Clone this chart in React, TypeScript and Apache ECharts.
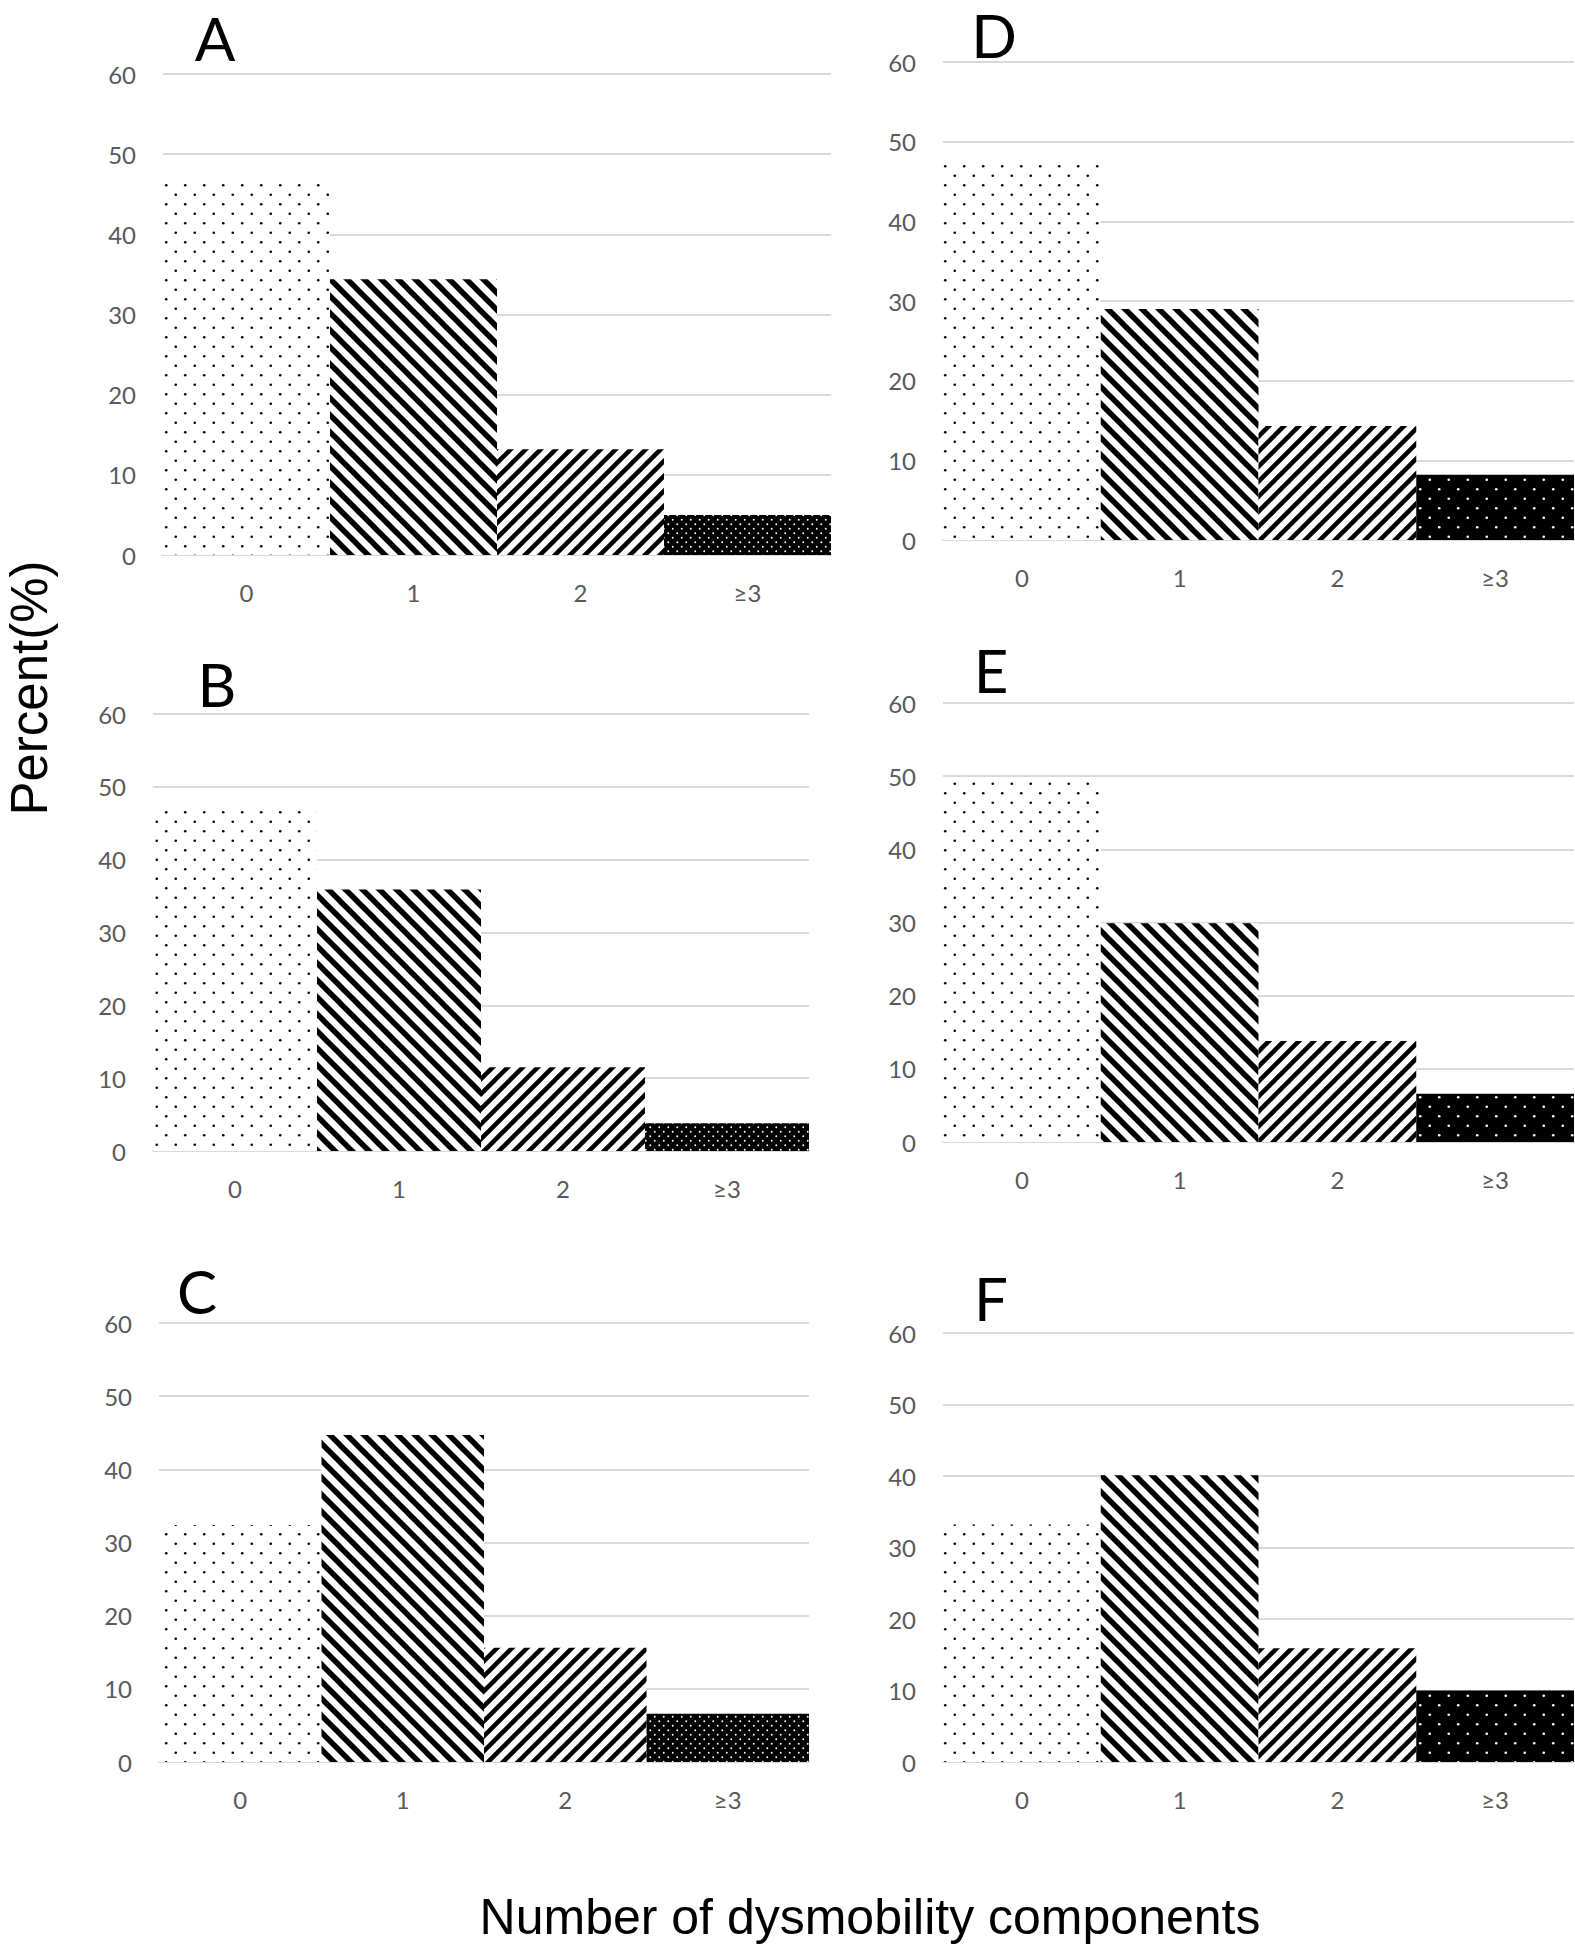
import React, { useEffect, useRef } from 'react';
import * as echarts from 'echarts';

const categories = ['0', '1', '2', '≥3'];
const panelLetters = ['A', 'B', 'C', 'D', 'E', 'F'];
const valuesA = [47.0, 34.4, 13.2, 5.0];
const valuesB = [47.6, 35.9, 11.5, 3.8];
const valuesC = [32.4, 44.7, 15.6, 6.6];
const valuesD = [47.7, 29.0, 14.3, 8.2];
const valuesE = [49.8, 29.9, 13.8, 6.6];
const valuesF = [33.2, 40.1, 15.9, 10.0];
const panelValues = [valuesA, valuesB, valuesC, valuesD, valuesE, valuesF];
const yMin = 0;
const yMax = 60;
const yStep = 10;
const xTitle = 'Number of dysmobility components';
const yTitle = 'Percent(%)';

// layout (pixels)
const gridRects = [
  { left: 163, top: 74, width: 668, height: 481 },
  { left: 153, top: 714, width: 656, height: 437 },
  { left: 159, top: 1323, width: 650, height: 439 },
  { left: 943, top: 62, width: 631, height: 478 },
  { left: 943, top: 703, width: 631, height: 439 },
  { left: 943, top: 1333, width: 631, height: 429 },
];
const letterPos = [
  [215, 38], [217, 684], [197, 1291], [994, 35], [991, 670], [991, 1298],
];

function tile(size: number, draw: (ctx: CanvasRenderingContext2D, s: number) => void) {
  const c = document.createElement('canvas');
  c.width = size;
  c.height = size;
  const ctx = c.getContext('2d') as CanvasRenderingContext2D;
  draw(ctx, size);
  return { image: c.toDataURL(), imageWidth: size, imageHeight: size, repeat: 'repeat' };
}

function dots(size: number, bg: string, fg: string, r: number) {
  return tile(size, (ctx, s) => {
    ctx.fillStyle = bg;
    ctx.fillRect(0, 0, s, s);
    ctx.fillStyle = fg;
    const pts = [[s * 0.25, s * 0.25], [s * 0.75, s * 0.75]];
    pts.forEach(([x, y]) => {
      ctx.beginPath();
      ctx.arc(x, y, r, 0, Math.PI * 2);
      ctx.fill();
    });
  });
}

function stripes(size: number, lw: number, down: boolean) {
  return tile(size, (ctx, s) => {
    ctx.fillStyle = '#ffffff';
    ctx.fillRect(0, 0, s, s);
    ctx.strokeStyle = '#000000';
    ctx.lineWidth = lw;
    for (let k = -1; k <= 1; k++) {
      ctx.beginPath();
      if (down) {
        ctx.moveTo(k * s - 3, -3);
        ctx.lineTo(k * s + s + 3, s + 3);
      } else {
        ctx.moveTo(k * s - 3, s + 3);
        ctx.lineTo(k * s + s + 3, -3);
      }
      ctx.stroke();
    }
  });
}

export default function App() {
  const ref = useRef<HTMLDivElement>(null);
  useEffect(() => {
    if (!ref.current) return;
    const chart = echarts.init(ref.current, null, { renderer: 'svg' });

    const pSparse = dots(19, '#ffffff', '#000000', 1.3);
    const pDown = stripes(17, 5.5, true);
    const pUp = stripes(15, 4.5, false);
    const pDenseL = dots(9, '#000000', '#ffffff', 0.95);
    const pDenseR = dots(19, '#000000', '#ffffff', 1.3);

    const grids: any[] = [];
    const xAxes: any[] = [];
    const yAxes: any[] = [];
    const series: any[] = [];
    const graphics: any[] = [];

    panelValues.forEach((vals, i) => {
      grids.push({ ...gridRects[i], containLabel: false, outerBoundsMode: 'none' });
      xAxes.push({
        type: 'category',
        gridIndex: i,
        data: categories,
        axisLine: { show: true, lineStyle: { color: '#d9d9d9', width: 2 } },
        axisTick: { show: false },
        axisLabel: { color: '#595959', fontSize: 24, fontFamily: 'Lato', margin: 25 },
        splitLine: { show: false },
      });
      yAxes.push({
        type: 'value',
        gridIndex: i,
        min: yMin,
        max: yMax,
        interval: yStep,
        axisLine: { show: false },
        axisTick: { show: false },
        axisLabel: { color: '#595959', fontSize: 24, fontFamily: 'Lato', margin: 27 },
        splitLine: { show: true, lineStyle: { color: '#d9d9d9', width: 2 } },
      });
      const pats = [pSparse, pDown, pUp, i < 3 ? pDenseL : pDenseR];
      series.push({
        type: 'bar',
        xAxisIndex: i,
        yAxisIndex: i,
        barCategoryGap: '0%',
        data: vals.map((v, j) => ({ value: v, itemStyle: { color: pats[j] } })),
      });
      graphics.push({
        type: 'text',
        x: letterPos[i][0],
        y: letterPos[i][1],
        style: {
          text: panelLetters[i],
          fontSize: 60,
          fontFamily: 'Lato',
          fill: '#000000',
          align: 'center',
          verticalAlign: 'middle',
        },
      });
    });

    graphics.push({
      type: 'text',
      x: 29,
      y: 688,
      rotation: Math.PI / 2,
      style: {
        text: yTitle,
        fontSize: 51,
        fontFamily: 'Liberation Sans',
        fill: '#000000',
        align: 'center',
        verticalAlign: 'middle',
      },
    });
    graphics.push({
      type: 'text',
      x: 870,
      y: 1917,
      style: {
        text: xTitle,
        fontSize: 50,
        fontFamily: 'Liberation Sans',
        fill: '#000000',
        align: 'center',
        verticalAlign: 'middle',
      },
    });

    chart.setOption({
      animation: false,
      backgroundColor: '#ffffff',
      grid: grids,
      xAxis: xAxes,
      yAxis: yAxes,
      series,
      graphic: graphics,
    });
    return () => chart.dispose();
  }, []);
  return (
    <div
      ref={ref}
      style={{ position: 'absolute', left: 0, top: 0, width: 1575, height: 1953 }}
    />
  );
}
